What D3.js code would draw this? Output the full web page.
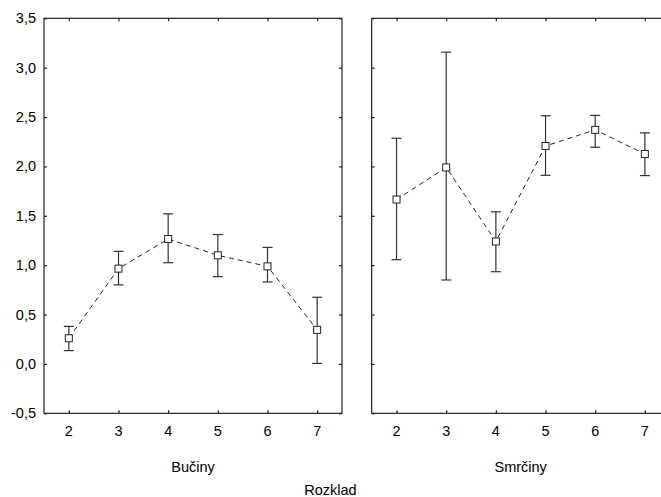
<!DOCTYPE html>
<html>
<head>
<meta charset="utf-8">
<script src="https://cdn.jsdelivr.net/npm/d3@7"></script>
<style>
  html, body { margin: 0; padding: 0; background: #fff; }
  svg text { font-family: "Liberation Sans", Arial, sans-serif; fill: #000; }
</style>
</head>
<body>
<svg id="chart" width="661" height="497"></svg>
<script>
const categories = [2, 3, 4, 5, 6, 7];
const panelNames = ["Bučiny", "Smrčiny"];
const bucinyMean = [0.26, 0.965, 1.265, 1.10, 0.988, 0.345];
const bucinyLow  = [0.135, 0.80, 1.025, 0.884, 0.83, 0.005];
const bucinyHigh = [0.38, 1.14, 1.52, 1.31, 1.18, 0.675];
const smrcinyMean = [1.665, 1.99, 1.24, 2.207, 2.37, 2.126];
const smrcinyLow  = [1.056, 0.85, 0.934, 1.91, 2.194, 1.907];
const smrcinyHigh = [2.285, 3.157, 1.54, 2.513, 2.517, 2.34];
const yTicks = [-0.5, 0.0, 0.5, 1.0, 1.5, 2.0, 2.5, 3.0, 3.5];
const xTitle = "Rozklad";

const panels = [
  {name: panelNames[0], mean: bucinyMean, low: bucinyLow, high: bucinyHigh, x0: 44, x1: 342},
  {name: panelNames[1], mean: smrcinyMean, low: smrcinyLow, high: smrcinyHigh, x0: 371.7, x1: 669.7}
];

const svg = d3.select("#chart");
const plotTop = 18.3, plotBottom = 413.3;
const y = d3.scaleLinear().domain([-0.5, 3.5]).range([plotBottom, plotTop]);
const fmt = v => d3.format(".1f")(v).replace(".", ",").replace("−", "-");
const ink = "#222";
const fs = 14.5;

panels.forEach((p, pi) => {
  const x = d3.scaleLinear().domain([1.5, 7.5]).range([p.x0, p.x1]);
  const g = svg.append("g");

  g.append("rect").attr("x", p.x0).attr("y", plotTop)
    .attr("width", p.x1 - p.x0).attr("height", plotBottom - plotTop)
    .attr("fill", "none").attr("stroke", ink).attr("stroke-width", 1.2);

  const tl = 3;
  g.append("g").attr("transform", `translate(0,${plotBottom})`)
    .call(d3.axisTop(x).tickValues(categories).tickSize(tl).tickFormat(""));
  g.append("g").attr("transform", `translate(0,${plotTop})`)
    .call(d3.axisBottom(x).tickValues(categories).tickSize(tl).tickFormat(""));
  g.append("g").attr("transform", `translate(${p.x0},0)`)
    .call(d3.axisRight(y).tickValues(yTicks).tickSize(tl).tickFormat(""));
  g.append("g").attr("transform", `translate(${p.x1},0)`)
    .call(d3.axisLeft(y).tickValues(yTicks).tickSize(tl).tickFormat(""));
  g.selectAll(".domain").remove();
  g.selectAll(".tick line").attr("stroke", ink).attr("stroke-width", 1.2);

  g.selectAll("text.xl").data(categories).enter().append("text")
    .attr("x", d => x(d)).attr("y", 436)
    .attr("text-anchor", "middle").attr("font-size", fs).text(d => d);

  if (pi === 0) {
    g.selectAll("text.yl").data(yTicks).enter().append("text")
      .attr("x", 36).attr("y", d => y(d) + 5)
      .attr("text-anchor", "end").attr("font-size", fs).text(fmt);
  }

  g.append("text").attr("x", (p.x0 + p.x1) / 2).attr("y", 472)
    .attr("text-anchor", "middle").attr("font-size", fs).text(p.name);

  const cw = 5;
  categories.forEach((c, i) => {
    const cx = x(c);
    g.append("line").attr("x1", cx).attr("x2", cx)
      .attr("y1", y(p.low[i])).attr("y2", y(p.high[i]))
      .attr("stroke", "#333").attr("stroke-width", 1.2);
    [p.low[i], p.high[i]].forEach(v => {
      g.append("line").attr("x1", cx - cw).attr("x2", cx + cw)
        .attr("y1", y(v)).attr("y2", y(v))
        .attr("stroke", "#333").attr("stroke-width", 1.2);
    });
  });

  const line = d3.line().x((d, i) => x(categories[i])).y(d => y(d));
  g.append("path").datum(p.mean).attr("d", line)
    .attr("fill", "none").attr("stroke", "#222").attr("stroke-width", 1)
    .attr("stroke-dasharray", "5,4");

  g.selectAll("rect.m").data(p.mean).enter().append("rect")
    .attr("x", (d, i) => x(categories[i]) - 3.5).attr("y", d => y(d) - 3.5)
    .attr("width", 7).attr("height", 7)
    .attr("fill", "#fff").attr("stroke", "#222").attr("stroke-width", 1);
});

svg.append("text").attr("x", 330.5).attr("y", 495)
  .attr("text-anchor", "middle").attr("font-size", fs).text(xTitle);
</script>
</body>
</html>
